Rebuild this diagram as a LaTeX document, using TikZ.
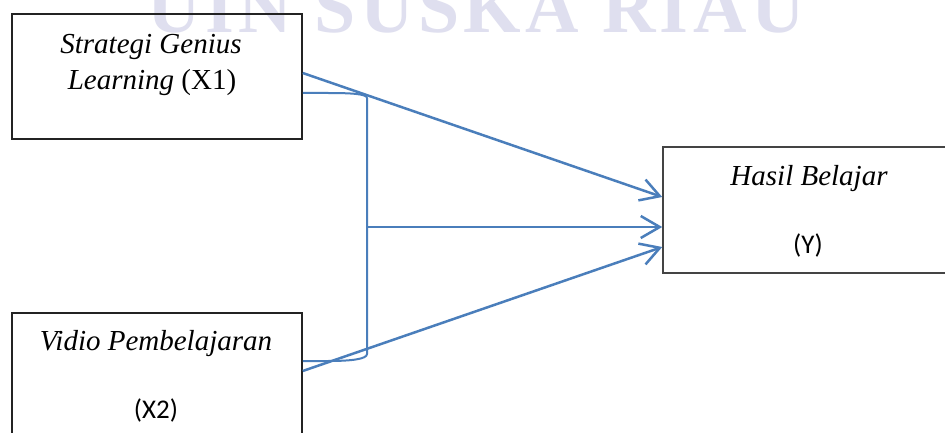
\documentclass[tikz,border=0pt]{standalone}
\usepackage{fontspec}
\setmainfont{Liberation Serif}
\newfontfamily\calib{Carlito}
\newfontfamily\wmfont[LetterSpace=6]{Liberation Serif Bold}
\usetikzlibrary{arrows.meta,calc}
\definecolor{arrowblue}{RGB}{74,126,187}
\definecolor{wmark}{RGB}{223,223,239}
\definecolor{boxline}{RGB}{35,35,35}
\begin{document}
\begin{tikzpicture}[x=1pt,y=-1pt,
  box/.style={draw=boxline,line width=1.5pt,inner sep=0pt},
  lab/.style={anchor=base,inner sep=0pt,font=\fontsize{29}{34}\selectfont\itshape},
  clab/.style={anchor=base,inner sep=0pt,font=\fontsize{27}{32}\selectfont\calib},
  conn/.style={draw=arrowblue,line width=2.5pt},
  tipped/.style={conn,-{Straight Barb[length=19pt,width=22pt]}},
]
\clip (0,0) rectangle (945,433);
\useasboundingbox (0,0) rectangle (945,433);
\fill[white] (0,0) rectangle (945,433);

% watermark
\node[anchor=base,inner sep=0pt,text=wmark,font=\fontsize{74}{80}\wmfont] (wm) at (476,33) {UIN SUSKA RIAU};

% boxes
\node[box,minimum width=290pt,minimum height=125pt] (x1) at (157,76.5) {};
\node[box,minimum width=290pt,minimum height=132pt] (x2) at (157,379) {};
\node[box,draw=boxline!85,minimum width=292pt,minimum height=126pt] (y) at (809,210) {};

% texts
\node[lab] (t1a) at (151,54) {Strategi Genius};
\node[lab] (t1b) at (152,90) {Learning \textup{(X1)}};
\node[lab] (t2a) at (156,350) {Vidio Pembelajaran};
\node[clab] (t2b) at (156,418) {(X2)};
\node[lab] (t3a) at (809,185) {Hasil Belajar};
\node[clab] (t3b) at (808,253) {(Y)};

% junction points
\coordinate (jt) at (367,98);
\coordinate (jm) at (367,227);
\coordinate (jb) at (367,354);

% bracket
\draw[conn,line width=2pt] ([yshift=-16.5pt]x1.east) -- (328,93)
   .. controls (352,93) and (367,94) .. (jt) -- (jb)
   .. controls (367,359) and (352,361) .. (328,361) -- ([yshift=18pt]x2.east);

% arrows
\draw[tipped] ([yshift=3.5pt]x1.east) -- ([yshift=13pt]y.west);
\draw[tipped] (jm) -- ([yshift=-17pt]y.west);
\draw[tipped] ([yshift=8pt]x2.east) -- ([yshift=-37pt]y.west);
\end{tikzpicture}
\end{document}
